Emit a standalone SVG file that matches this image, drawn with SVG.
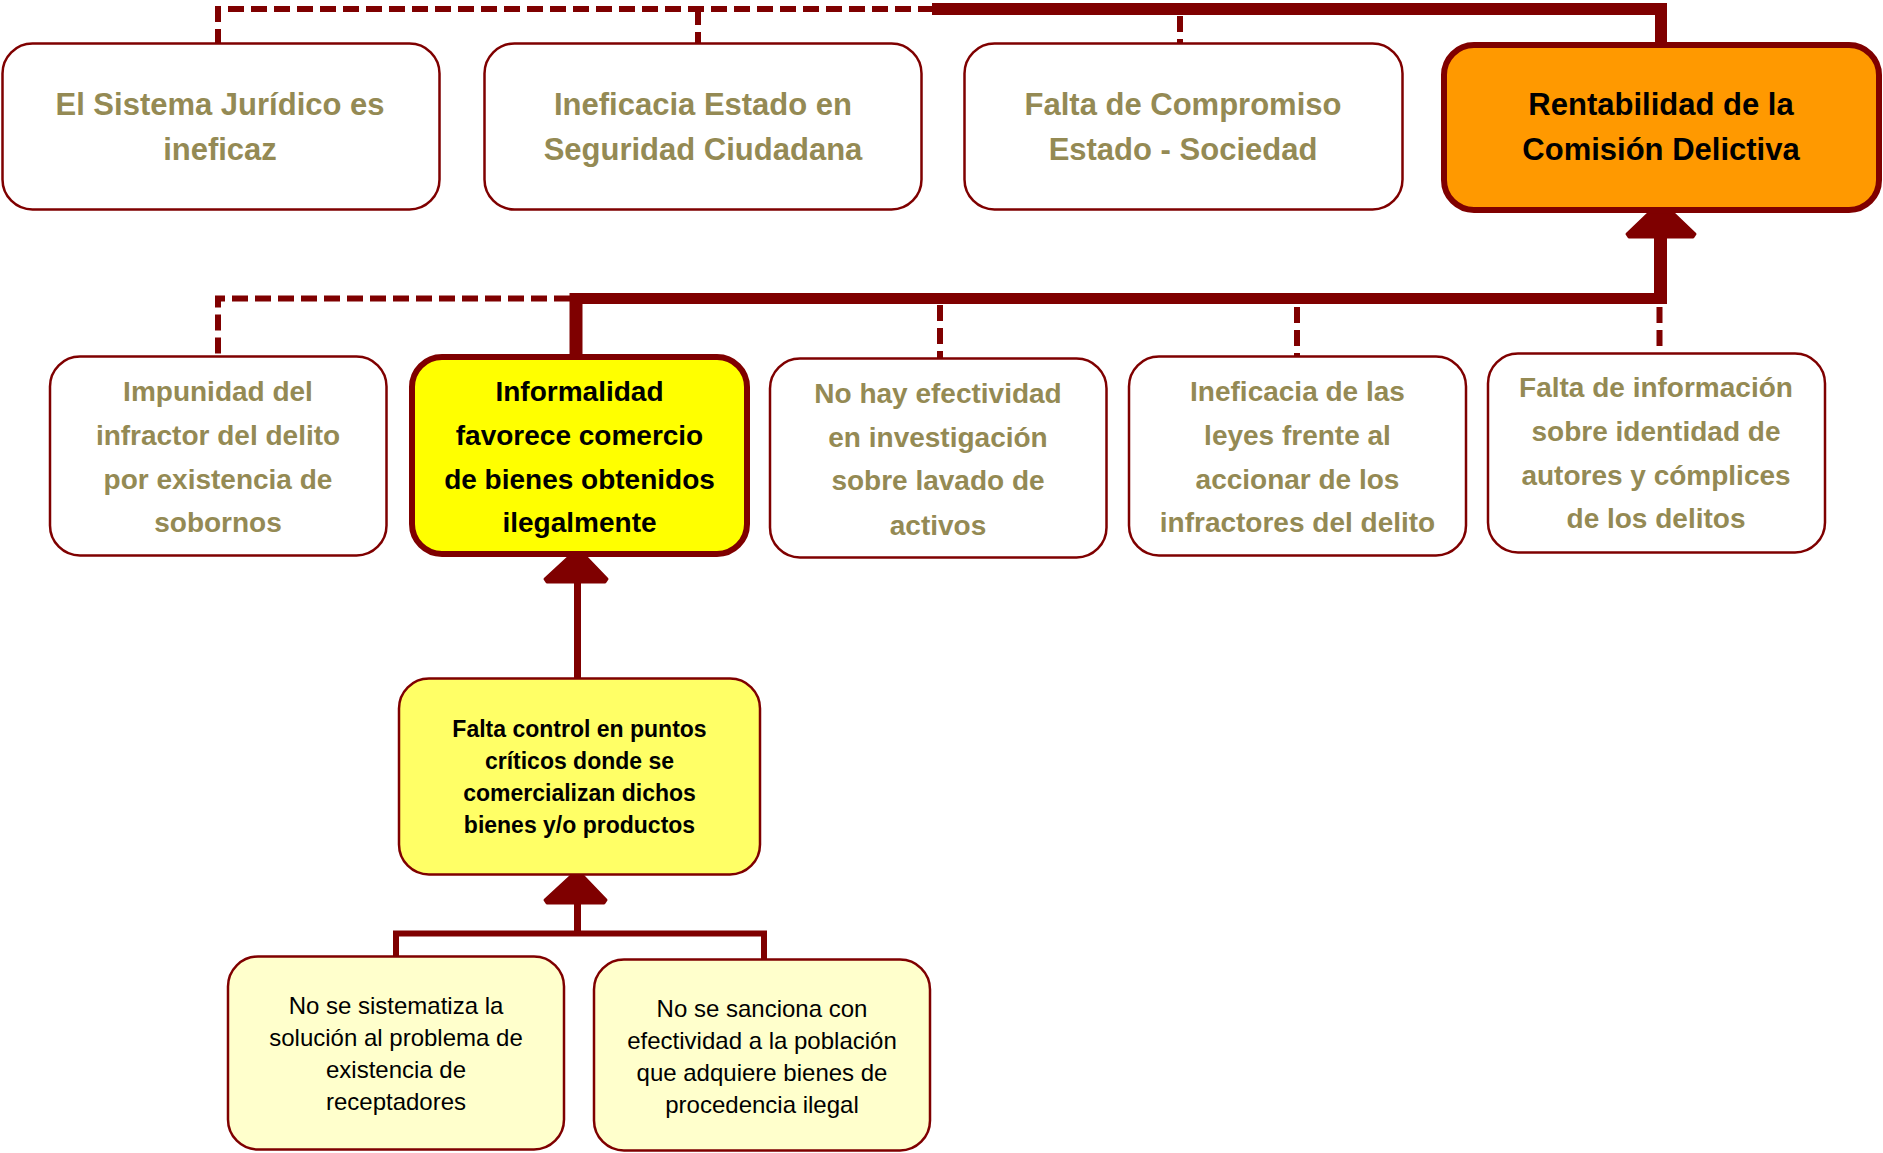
<svg xmlns="http://www.w3.org/2000/svg" width="1883" height="1153" viewBox="0 0 1883 1153">
<style>
  .box { fill: #FFFFFF; stroke: #7F0000; stroke-width: 2.5; }
  .thick { stroke: #7F0000; stroke-width: 6; }
  .t { font-family: "Liberation Sans", Arial, sans-serif; text-anchor: middle; }
  .b { font-weight: bold; }
  .olive { fill: #948A54; }
  .blk { fill: #000000; }
  .s31 { font-size: 31px; }
  .s28 { font-size: 28px; }
  .s23 { font-size: 23px; }
  .s24 { font-size: 24px; }
  .dash { fill: none; stroke: #7F0000; stroke-width: 6; stroke-dasharray: 16 7; }
  .solid { fill: none; stroke: #7F0000; }
  .head { fill: #7F0000; stroke: #7F0000; stroke-width: 3; stroke-linejoin: round; }
</style>
<rect width="1883" height="1153" fill="#FFFFFF"/>

<g id="connectors">
  <path class="dash" d="M934,9 H218 V43"/>
  <path class="dash" d="M698,9 V43"/>
  <path class="dash" d="M1180,16 V43"/>
  <path class="solid" stroke-width="12" d="M932,9 H1661 V43"/>
  <path class="dash" d="M570,298.5 H218 V356"/>
  <path class="solid" stroke-width="11" d="M570,298.5 H1667"/>
  <path class="solid" stroke-width="13" d="M576,293 V355"/>
  <path class="solid" stroke-width="13" d="M1660.5,304 V234"/>
  <polygon class="head" points="1650,212 1672,212 1695,234 1693,237 1629,237 1627,234"/>
  <path class="dash" d="M940,305 V358"/>
  <path class="dash" d="M1297,307 V356"/>
  <path class="dash" d="M1659.5,307 V353"/>
  <polygon class="head" points="571,555 584,555 607,579 605,582 547,582 545,579"/>
  <path class="solid" stroke-width="7" d="M577.5,580 V678"/>
  <polygon class="head" points="571,876 583,876 606,900 604,903 547,903 545,900"/>
  <path class="solid" stroke-width="7" d="M577.5,900 V934"/>
  <path class="solid" stroke-width="6" d="M396,957 V933.5 H764 V960"/>
</g>

<g id="n1">
  <rect class="box" x="2.5" y="43.5" width="437" height="166" rx="30"/>
  <text class="t b s31 olive" x="220" y="115">El Sistema Jurídico es</text>
  <text class="t b s31 olive" x="220" y="160">ineficaz</text>
</g>
<g id="n2">
  <rect class="box" x="484.5" y="43.5" width="437" height="166" rx="30"/>
  <text class="t b s31 olive" x="703" y="115">Ineficacia Estado en</text>
  <text class="t b s31 olive" x="703" y="160">Seguridad Ciudadana</text>
</g>
<g id="n3">
  <rect class="box" x="964.5" y="43.5" width="438" height="166" rx="30"/>
  <text class="t b s31 olive" x="1183" y="115">Falta de Compromiso</text>
  <text class="t b s31 olive" x="1183" y="160">Estado - Sociedad</text>
</g>
<g id="n4">
  <rect class="thick" fill="#FF9900" x="1444" y="45" width="435" height="165" rx="30"/>
  <text class="t b s31 blk" x="1661" y="115">Rentabilidad de la</text>
  <text class="t b s31 blk" x="1661" y="160">Comisión Delictiva</text>
</g>

<g id="n5">
  <rect class="box" x="50" y="356.5" width="336.5" height="199" rx="30"/>
  <text class="t b s28 olive" x="218" y="401">Impunidad del</text>
  <text class="t b s28 olive" x="218" y="445">infractor del delito</text>
  <text class="t b s28 olive" x="218" y="489">por existencia de</text>
  <text class="t b s28 olive" x="218" y="532">sobornos</text>
</g>
<g id="n6">
  <rect class="thick" fill="#FFFF00" x="412" y="357" width="335" height="197" rx="30"/>
  <text class="t b s28 blk" x="579.5" y="401">Informalidad</text>
  <text class="t b s28 blk" x="579.5" y="445">favorece comercio</text>
  <text class="t b s28 blk" x="579.5" y="489">de bienes obtenidos</text>
  <text class="t b s28 blk" x="579.5" y="532">ilegalmente</text>
</g>
<g id="n7">
  <rect class="box" x="770" y="358.5" width="336.5" height="199" rx="30"/>
  <text class="t b s28 olive" x="938" y="403">No hay efectividad</text>
  <text class="t b s28 olive" x="938" y="447">en investigación</text>
  <text class="t b s28 olive" x="938" y="490">sobre lavado de</text>
  <text class="t b s28 olive" x="938" y="535">activos</text>
</g>
<g id="n8">
  <rect class="box" x="1129" y="356.5" width="337" height="199" rx="30"/>
  <text class="t b s28 olive" x="1297.5" y="401">Ineficacia de las</text>
  <text class="t b s28 olive" x="1297.5" y="445">leyes frente al</text>
  <text class="t b s28 olive" x="1297.5" y="489">accionar de los</text>
  <text class="t b s28 olive" x="1297.5" y="532">infractores del delito</text>
</g>
<g id="n9">
  <rect class="box" x="1488" y="353.5" width="337" height="199" rx="30"/>
  <text class="t b s28 olive" x="1656" y="397">Falta de información</text>
  <text class="t b s28 olive" x="1656" y="441">sobre identidad de</text>
  <text class="t b s28 olive" x="1656" y="485">autores y cómplices</text>
  <text class="t b s28 olive" x="1656" y="528">de los delitos</text>
</g>

<g id="n10">
  <rect class="box" fill="#FFFF66" style="fill:#FFFF66" x="399" y="678.5" width="361" height="196" rx="30"/>
  <text class="t b s23 blk" x="579.5" y="737">Falta control en puntos</text>
  <text class="t b s23 blk" x="579.5" y="769">críticos donde se</text>
  <text class="t b s23 blk" x="579.5" y="801">comercializan dichos</text>
  <text class="t b s23 blk" x="579.5" y="833">bienes y/o productos</text>
</g>
<g id="n11">
  <rect class="box" style="fill:#FFFFCC" x="228" y="956.5" width="336" height="193" rx="30"/>
  <text class="t s24 blk" x="396" y="1014">No se sistematiza la</text>
  <text class="t s24 blk" x="396" y="1046">solución al problema de</text>
  <text class="t s24 blk" x="396" y="1078">existencia de</text>
  <text class="t s24 blk" x="396" y="1110">receptadores</text>
</g>
<g id="n12">
  <rect class="box" style="fill:#FFFFCC" x="594" y="959.5" width="336" height="191" rx="30"/>
  <text class="t s24 blk" x="762" y="1017">No se sanciona con</text>
  <text class="t s24 blk" x="762" y="1049">efectividad a la población</text>
  <text class="t s24 blk" x="762" y="1081">que adquiere bienes de</text>
  <text class="t s24 blk" x="762" y="1113">procedencia ilegal</text>
</g>
</svg>
